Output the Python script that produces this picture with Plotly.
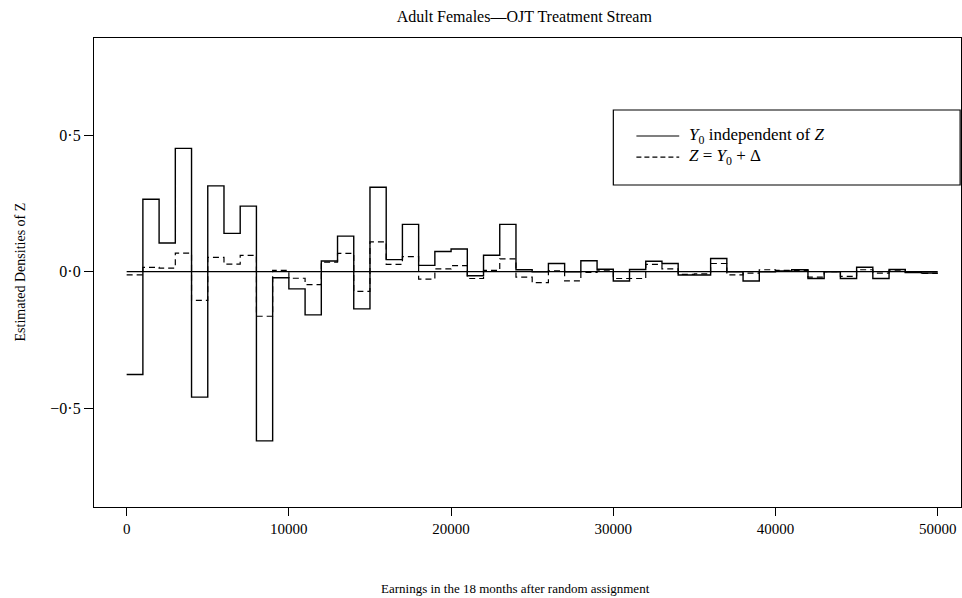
import numpy as np
import plotly.graph_objects as go

# Earnings bins (lower edges, in dollars) and estimated densities per bin
bin_width = 1000
bin_starts = list(range(0, 50000, bin_width))

# Y0 independent of Z
dens_indep = [
    -0.376, 0.265, 0.105, 0.451, -0.459, 0.314, 0.140, 0.240, -0.619, -0.022,
    -0.063, -0.158, 0.039, 0.130, -0.136, 0.309, 0.044, 0.173, 0.023, 0.074,
    0.083, -0.015, 0.060, 0.173, 0.007, 0.000, 0.030, 0.000, 0.040, 0.009,
    -0.034, 0.008, 0.038, 0.030, -0.012, -0.012, 0.048, 0.000, -0.034, 0.000,
    0.003, 0.007, -0.025, 0.000, -0.025, 0.016, -0.025, 0.008, -0.003, -0.005,
]

# Z = Y0 + Delta
dens_shift = [
    -0.012, 0.016, 0.013, 0.068, -0.105, 0.052, 0.028, 0.060, -0.163, 0.005,
    -0.024, -0.047, 0.035, 0.067, -0.072, 0.109, 0.027, 0.055, -0.027, 0.010,
    0.022, -0.025, 0.005, 0.047, -0.020, -0.040, 0.003, -0.034, -0.003, 0.003,
    -0.025, -0.025, 0.027, 0.010, -0.010, -0.008, 0.030, -0.012, -0.005, 0.007,
    0.005, 0.005, -0.020, 0.000, -0.017, 0.007, -0.005, 0.003, -0.003, -0.006,
]

x_ticks = [0, 10000, 20000, 30000, 40000, 50000]
y_ticks = [-0.5, 0.0, 0.5]
y_tick_text = ["\u22120\u00b75", "0\u00b70", "0\u00b75"]

FONT = "Liberation Serif"

# step edges: each bin value is held until the next bin edge
edges = bin_starts + [bin_starts[-1] + bin_width]


def step_y(vals):
    return list(vals) + [vals[-1]]


fig = go.Figure()

fig.add_trace(go.Scatter(
    x=edges, y=step_y(dens_indep), mode="lines", line_shape="hv",
    line=dict(color="black", width=1.4), showlegend=False,
))
fig.add_trace(go.Scatter(
    x=edges, y=step_y(dens_shift), mode="lines", line_shape="hv",
    line=dict(color="black", width=1.2, dash="6px,4px"), showlegend=False,
))

# zero reference line across the earnings range
fig.add_shape(type="line", xref="x", yref="y", x0=edges[0], x1=edges[-1],
              y0=0, y1=0, line=dict(color="black", width=1.2))

# legend box
lx0, lx1, ly0, ly1 = 0.599, 0.999, 0.6866, 0.8465
fig.add_shape(type="rect", xref="paper", yref="paper", x0=lx0, x1=lx1,
              y0=ly0, y1=ly1, line=dict(color="black", width=1.2),
              fillcolor="white", layer="above")
fig.add_shape(type="line", xref="paper", yref="paper", x0=0.6256, x1=0.675,
              y0=0.791, y1=0.791, line=dict(color="black", width=1.2))
fig.add_shape(type="line", xref="paper", yref="paper", x0=0.6256, x1=0.675,
              y0=0.746, y1=0.746, line=dict(color="black", width=1.2, dash="5px,3px"))
fig.add_annotation(xref="paper", yref="paper", x=0.684, y=0.791, xanchor="left",
                   yanchor="middle", showarrow=False,
                   text="<i>Y</i><sub>0</sub> independent of <i>Z</i>",
                   font=dict(family=FONT, size=17, color="black"))
fig.add_annotation(xref="paper", yref="paper", x=0.684, y=0.746, xanchor="left",
                   yanchor="middle", showarrow=False,
                   text="<i>Z</i> = <i>Y</i><sub>0</sub> + \u0394",
                   font=dict(family=FONT, size=17, color="black"))

# axis titles
fig.add_annotation(xref="paper", yref="paper", x=0.486, y=0, yshift=-81,
                   xanchor="center", yanchor="middle", showarrow=False,
                   text="Earnings in the 18 months after random assignment",
                   font=dict(family=FONT, size=13, color="black"))
fig.add_annotation(xref="paper", yref="paper", x=0, y=0.5, xshift=-74,
                   xanchor="center", yanchor="middle", showarrow=False,
                   textangle=-90, text="Estimated Densities of Z",
                   font=dict(family=FONT, size=14, color="black"))

fig.update_layout(
    width=962, height=598,
    margin=dict(l=94, r=1, t=38, b=91),
    paper_bgcolor="white", plot_bgcolor="white",
    font=dict(family=FONT, size=14, color="black"),
    title=dict(text="Adult Females\u2014OJT Treatment Stream",
               x=0.545, xanchor="center", y=0.973, yanchor="middle",
               font=dict(family=FONT, size=16, color="black")),
    xaxis=dict(range=[-2013, 51435], tickvals=x_ticks,
               ticktext=[str(v) for v in x_ticks],
               ticks="outside", ticklen=8, tickwidth=1.2, tickcolor="black",
               showline=True, linecolor="black", linewidth=1.2, mirror=True,
               showgrid=False, zeroline=False,
               tickfont=dict(family=FONT, size=15)),
    yaxis=dict(range=[-0.861, 0.855], tickvals=y_ticks, ticktext=y_tick_text,
               ticks="outside", ticklen=9, tickwidth=1.2, tickcolor="black",
               showline=True, linecolor="black", linewidth=1.2, mirror=True,
               showgrid=False, zeroline=False,
               tickfont=dict(family=FONT, size=16)),
    showlegend=False,
)

fig.write_html("out.html")
